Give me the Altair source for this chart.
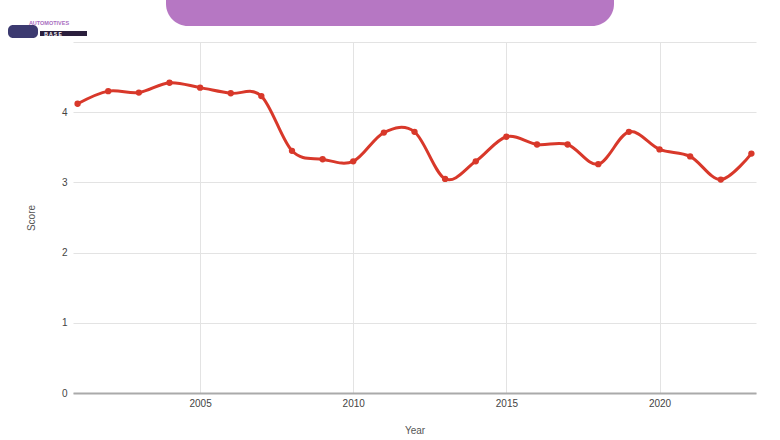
import altair as alt
import pandas as pd

years = list(range(2001, 2024))
scores = [4.12, 4.30, 4.28, 4.42, 4.35, 4.27, 4.23, 3.45, 3.33, 3.30, 3.71, 3.72,
          3.05, 3.30, 3.65, 3.54, 3.54, 3.26, 3.72, 3.47, 3.37, 3.04, 3.41]
x_ticks = [2005, 2010, 2015, 2020]
y_ticks = [0, 1, 2, 3, 4, 5]

df = pd.DataFrame({"Year": years, "Score": scores})
one = pd.DataFrame({"a": [0]})

FONT = "Liberation Sans"
RED = "#d8382a"

x = alt.X("Year:Q",
          scale=alt.Scale(domain=[2000.85, 2023.15], nice=False, zero=False),
          axis=alt.Axis(values=x_ticks, format="d", title="Year", grid=True,
                        gridColor="#e3e3e3", ticks=False, domainColor="#aaaaaa",
                        domainWidth=2, labelPadding=5, titlePadding=17,
                        labelFont=FONT, labelFontSize=10, labelColor="#444444",
                        titleFont=FONT, titleFontSize=10, titleColor="#555555",
                        titleFontWeight="normal"))
y = alt.Y("Score:Q",
          scale=alt.Scale(domain=[0, 5], nice=False),
          axis=alt.Axis(values=y_ticks, labelExpr="datum.value == 5 ? '' : datum.label",
                        title="Score", grid=True, gridColor="#e3e3e3", ticks=False,
                        domain=False, labelPadding=6, titlePadding=25,
                        labelFont=FONT, labelFontSize=10, labelColor="#444444",
                        titleFont=FONT, titleFontSize=10, titleColor="#555555",
                        titleFontWeight="normal"))

base = alt.Chart(df).encode(x=x, y=y)
line = base.mark_line(color=RED, strokeWidth=3, interpolate="cardinal")
pts = base.mark_circle(color=RED, size=40, opacity=1)

# decorative header banner (outside plot area)
banner = alt.Chart(one).mark_rect(color="#b677c3", cornerRadius=22).encode(
    x=alt.value(93), x2=alt.value(541), y=alt.value(-80), y2=alt.value(-16))

# approximate logo
car = alt.Chart(one).mark_rect(color="#3c3a70", cornerRadius=5).encode(
    x=alt.value(-65), x2=alt.value(-35), y=alt.value(-17), y2=alt.value(-4))
bar = alt.Chart(one).mark_rect(color="#2b1f3d").encode(
    x=alt.value(-33), x2=alt.value(14), y=alt.value(-11), y2=alt.value(-6))
t1 = alt.Chart(one).mark_text(text="AUTOMOTIVES", font=FONT, fontSize=5.5,
                              fontWeight="bold", color="#a86cc0").encode(
    x=alt.value(-24), y=alt.value(-19))
t2 = alt.Chart(one).mark_text(text="B A S E", font=FONT, fontSize=5,
                              fontWeight="bold", color="#ffffff").encode(
    x=alt.value(-20), y=alt.value(-8.5))

chart = alt.layer(banner, line, pts, car, bar, t1, t2).properties(
    width=683, height=351,
    padding={"left": 73, "top": 42, "right": 24, "bottom": 47},
    autosize=alt.AutoSizeParams(type="none"),
    background="#ffffff",
).configure_view(stroke=None)

chart.save("out.html", embed_options={"renderer": "svg", "actions": False})
